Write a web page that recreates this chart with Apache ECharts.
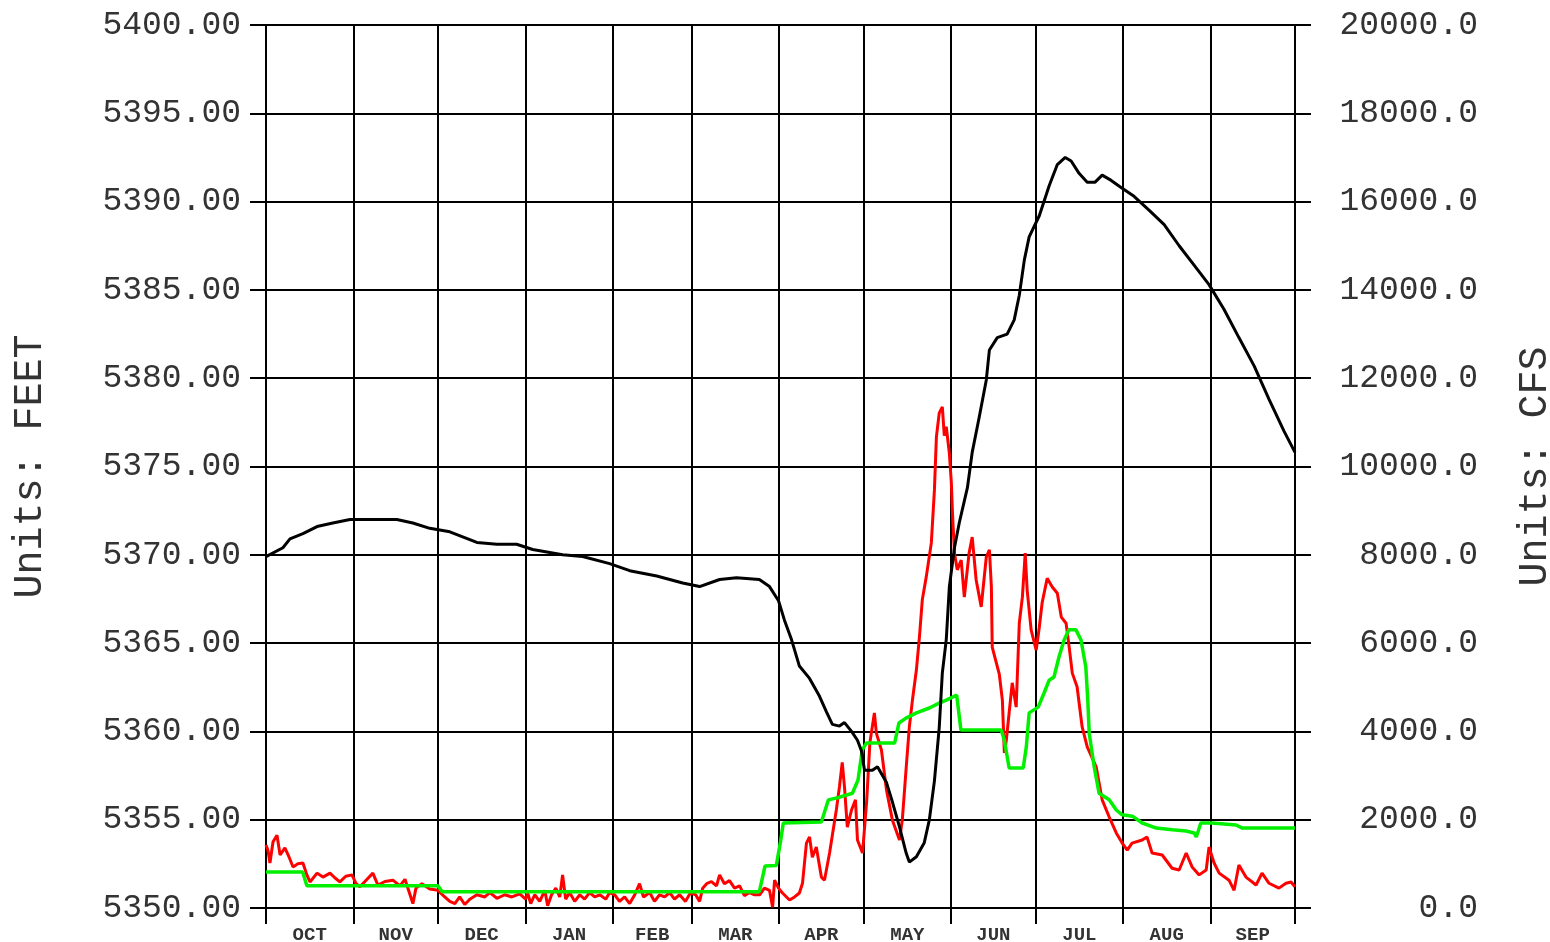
<!DOCTYPE html>
<html>
<head>
<meta charset="utf-8">
<script src="https://cdn.jsdelivr.net/npm/echarts@6/dist/echarts.min.js"></script>
<style>
html,body{margin:0;padding:0;background:#fff;}
#c{width:1550px;height:942px;}
</style>
</head>
<body>
<div id="c"></div>
<script>
// Month boundaries (day of water year) and labels
const monthStarts = [0,31,61,92,123,151,182,212,243,273,304,335,365];
const monthMids = [15.5,46,76.5,107.5,137,166.5,197,227.5,258,288.5,319.5,350];
const monthNames = ['OCT','NOV','DEC','JAN','FEB','MAR','APR','MAY','JUN','JUL','AUG','SEP'];

// Reservoir elevation (FEET) [day, value]
const elevation = [
[0,5369.9],[6,5370.4],[8.5,5370.9],[13.1,5371.2],[18.1,5371.6],[23.7,5371.8],[29.8,5372.0],
[46.4,5372.0],[52.1,5371.8],[58.1,5371.5],[65.2,5371.3],[74.8,5370.7],[81.9,5370.6],[88.9,5370.6],
[94.6,5370.3],[105.2,5370.0],[112.3,5369.9],[121.9,5369.5],[129,5369.1],[138.6,5368.8],[147.8,5368.4],
[153.8,5368.2],[160.9,5368.6],[166.9,5368.7],[175,5368.6],[178.6,5368.2],[181.8,5367.4],[183.9,5366.3],
[186.4,5365.2],[189.2,5363.7],[192.8,5363.0],[196.3,5362.0],[198.8,5361.1],[200.9,5360.4],[203.4,5360.3],
[205.2,5360.5],[207.7,5360.0],[209.8,5359.5],[211.2,5358.9],[212.3,5357.8],[215.1,5357.8],[216.9,5358.0],
[220.1,5357.1],[222.2,5356.0],[224.7,5354.6],[227.1,5353.1],[228.2,5352.6],[230.7,5352.9],[233.5,5353.7],
[235.3,5355.0],[237.1,5357.2],[238.8,5360.2],[239.9,5363.3],[241.3,5365.2],[242.4,5368.2],[244.2,5370.4],
[245.9,5371.8],[248.8,5373.8],[250.5,5375.8],[253.0,5377.8],[255.5,5379.9],[256.6,5381.6],[259.4,5382.3],
[262.9,5382.5],[265.4,5383.3],[267.2,5384.7],[269,5386.7],[270.7,5388.0],[274.3,5389.2],[277.8,5390.9],
[280.7,5392.1],[283.5,5392.5],[285.6,5392.3],[288.4,5391.6],[291.3,5391.1],[294.1,5391.1],[296.6,5391.5],
[299.8,5391.2],[303.3,5390.8],[307.9,5390.3],[313.3,5389.5],[318.6,5388.7],[323.9,5387.5],[329.2,5386.4],
[334.5,5385.3],[339.8,5383.9],[345.1,5382.3],[350.5,5380.7],[355.8,5378.8],[361.1,5377.0],[365,5375.8]
];

// Inflow (CFS) [day, value]
const inflow = [
[0,1430],[0.7,1300],[1.4,1020],[2.5,1500],[3.9,1650],[5,1200],[6.7,1360],[8.2,1150],[9.6,930],[11.3,1000],
[13.1,1020],[14.5,750],[15.6,590],[18.1,790],[20.2,700],[22.7,790],[24.5,680],[26.2,590],[28.3,720],[30.5,750],
[31.9,560],[33.3,480],[35.1,600],[37.9,790],[39.7,520],[42.2,600],[45,630],[47.5,500],[49.3,650],[52.1,100],
[53.2,450],[55.3,550],[58.1,430],[61,400],[63.4,250],[65.2,150],[67,100],[68.7,250],[70.5,80],[72.3,200],
[74.8,300],[77.6,250],[79.4,350],[81.9,220],[84.7,300],[87.2,250],[90,320],[92.1,200],[92.8,350],[93.9,100],
[95.3,300],[97.1,150],[98.9,400],[99.9,50],[101.3,300],[102.8,450],[104.2,250],[105.2,750],[106.3,200],[107.7,350],
[109.5,150],[111.3,300],[113,200],[114.8,350],[116.6,250],[118.4,300],[120.5,200],[121.9,350],[123.7,300],[125.4,150],
[127.2,250],[129,100],[130.8,300],[132.5,550],[133.9,250],[136.1,350],[137.8,150],[139.6,300],[141.4,250],[143.2,350],
[144.9,200],[146.7,300],[148.8,150],[150.6,350],[152.4,300],[153.8,150],[154.9,450],[156.3,550],[158,600],[159.8,500],
[160.9,750],[162.6,550],[164.4,620],[166.2,450],[168,500],[169.7,280],[171.5,350],[173.3,300],[175.1,300],[176.8,450],
[178.6,400],[179.7,20],[180.4,630],[181.8,450],[183.2,340],[185.7,180],[187.5,250],[189.2,340],[190.3,560],[191.7,1470],
[192.8,1610],[193.8,1150],[195.2,1380],[197,700],[198.1,630],[199.9,1245],[202.3,2220],[203.4,2740],[204.4,3300],[205.2,2740],
[206.2,1830],[207.7,2220],[209.1,2450],[209.8,1540],[211.6,1245],[213.1,2450],[214.2,3740],[215.8,4420],[216.5,3960],[218.3,3580],
[220.1,2670],[222.2,1990],[224.7,1540],[225.7,1990],[227.1,3190],[228.2,4100],[229.3,4710],[230.7,5390],[231.8,6150],[232.8,6980],
[234.2,7500],[236,8270],[237.1,9470],[237.8,10670],[238.8,11210],[239.9,11350],[240.6,10700],[241.3,10900],[242.4,10300],[243.1,9630],
[243.5,8950],[244.2,8040],[245.2,7660],[246.6,7880],[247.7,7040],[249.4,8040],[250.5,8400],[251.9,7430],[253.7,6820],[255.5,7950],
[256.6,8110],[257.3,7270],[257.6,5910],[260.1,5300],[261.2,4710],[261.9,3510],[262.6,3800],[263.6,4420],[264.7,5100],[266.1,4550],
[267.2,6450],[268.3,7040],[269.3,8040],[270,7200],[271.4,6300],[273.2,5840],[274.3,6360],[275.3,6910],[277.1,7470],[278.9,7270],
[280.7,7130],[282.1,6590],[283.8,6450],[284.9,5910],[286,5320],[287.7,5010],[289.5,4100],[291.3,3650],[294.5,3190],[296.6,2450],
[299.1,2060],[301.6,1700],[303.7,1470],[305.5,1310],[307.2,1470],[310.8,1540],[312.5,1610],[314.3,1245],[317.9,1200],[321.4,900],
[323.9,860],[326.4,1245],[328.5,930],[331,750],[333.5,860],[334.5,1380],[336.3,1020],[338.1,790],[341.6,630],[343.4,400],
[345.1,975],[347.6,700],[351.2,520],[353.3,790],[355.8,560],[359.3,450],[361.8,560],[363.6,590],[365,480]
];

// Outflow (CFS) [day, value]
const outflow = [
[0,815],[13,815],[14.5,505],[61,505],[62.5,370],[175,370],[177,950],[181,960],[182.5,1500],[183.5,1925],
[197,1950],[199.5,2450],[203.5,2510],[208,2600],[210,2900],[211.5,3580],[213,3740],[223,3740],[224.5,4190],[227,4300],
[230.7,4420],[235.3,4530],[238.8,4640],[241.3,4710],[245,4820],[246.5,4030],[260.8,4030],[261.9,3800],[263.6,3170],[268.6,3170],
[269.7,3650],[270.7,4420],[273.9,4550],[276,4870],[277.8,5160],[279.5,5230],[281.3,5690],[283.1,6070],[284.8,6300],[287.3,6300],
[289.1,6070],[290.8,5460],[291.5,4710],[292,3960],[293.8,3190],[295.5,2600],[299.1,2450],[301.6,2220],[303.7,2110],[307.3,2080],
[310.8,1925],[315.8,1810],[321.5,1770],[326.4,1745],[329.2,1700],[330,1610],[331.6,1925],[335.5,1925],[344.1,1880],[346.3,1810],[365,1810]
];

const FONT = '"Liberation Mono", "Courier New", monospace';
const chart = echarts.init(document.getElementById('c'), null, {renderer:'canvas'});
chart.setOption({
  animation:false,
  backgroundColor:'#fff',
  grid:{left:266, right:255, top:25, bottom:34, containLabel:false, outerBoundsMode:'none'},
  xAxis:{
    type:'value', min:0, max:365,
    axisLine:{show:true, lineStyle:{color:'#000', width:2}},
    axisTick:{show:true, customValues:monthStarts, length:16, inside:false, lineStyle:{color:'#000', width:2}},
    splitLine:{show:true, lineStyle:{color:'#000', width:2}},
    axisLabel:{customValues:monthMids, margin:18, color:'#333', fontFamily:FONT, fontWeight:'bold', fontSize:19,
      formatter:function(v){ const i = monthMids.indexOf(v); return i>=0 ? monthNames[i] : ''; }}
  },
  yAxis:[{
    type:'value', min:5350, max:5400, interval:5, position:'left',
    name:'Units: FEET', nameLocation:'middle', nameRotate:90, nameGap:216,
    nameTextStyle:{fontFamily:FONT, fontSize:40, color:'#333'},
    axisLine:{show:true, lineStyle:{color:'#000', width:2}},
    axisTick:{show:true, length:16, lineStyle:{color:'#000', width:2}},
    splitLine:{show:true, lineStyle:{color:'#000', width:2}},
    axisLabel:{margin:25, color:'#333', fontFamily:FONT, fontSize:33, formatter:v=>v.toFixed(2)}
  },{
    type:'value', min:0, max:20000, interval:2000, position:'right',
    name:'Units: CFS', nameLocation:'middle', nameRotate:90, nameGap:220,
    nameTextStyle:{fontFamily:FONT, fontSize:40, color:'#333'},
    axisLine:{show:true, lineStyle:{color:'#000', width:2}},
    axisTick:{show:true, length:16, lineStyle:{color:'#000', width:2}},
    splitLine:{show:false},
    axisLabel:{margin:183, align:'right', color:'#333', fontFamily:FONT, fontSize:33, formatter:v=>v.toFixed(1)}
  }],
  series:[
    {name:'Inflow', type:'line', yAxisIndex:1, data:inflow, showSymbol:false, lineStyle:{color:'#ff0000', width:3}, z:2},
    {name:'Outflow', type:'line', yAxisIndex:1, data:outflow, showSymbol:false, lineStyle:{color:'#00f000', width:3.5}, z:3},
    {name:'Elevation', type:'line', yAxisIndex:0, data:elevation, showSymbol:false, lineStyle:{color:'#000', width:3}, z:4}
  ]
});
</script>
</body>
</html>
